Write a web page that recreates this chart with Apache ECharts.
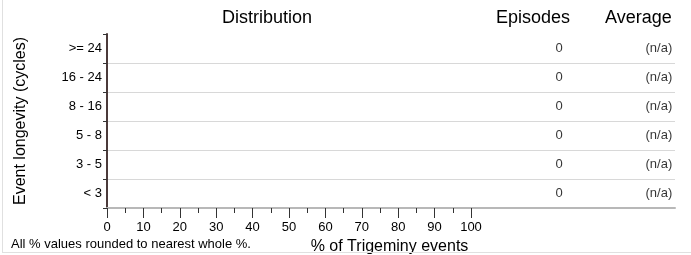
<!DOCTYPE html>
<html>
<head>
<meta charset="utf-8">
<script src="https://cdn.jsdelivr.net/npm/echarts@6/dist/echarts.min.js"></script>
<style>
html,body{margin:0;padding:0;background:#fff;}
#chart{width:691px;height:255px;}
#frame{position:absolute;left:2px;top:0;width:689px;height:253px;border-left:1px solid #e0e0e0;border-bottom:1px solid #e0e0e0;pointer-events:none;box-sizing:border-box;}
</style>
</head>
<body>
<div id="chart"></div>
<div id="frame"></div>
<script>
// Data (bottom row first)
const categories = ['< 3', '3 - 5', '5 - 8', '8 - 16', '16 - 24', '>= 24'];
const distribution = [0, 0, 0, 0, 0, 0];
const episodes = [0, 0, 0, 0, 0, 0];
const averages = ['(n/a)', '(n/a)', '(n/a)', '(n/a)', '(n/a)', '(n/a)'];
const xTicks = { min: 0, max: 100, interval: 10 };
const columns = ['Episodes', 'Average'];

const FONT = 'Liberation Sans, Arial, sans-serif';
const chart = echarts.init(document.getElementById('chart'), null, { renderer: 'canvas' });

chart.setOption({
  animation: false,
  textStyle: { fontFamily: FONT, color: '#000' },
  title: [
    { text: 'Distribution', left: 222, top: 9, padding: 0, textStyle: { fontSize: 18, fontWeight: 'normal', color: '#000', fontFamily: FONT } },
    { text: columns[0], left: 496, top: 9, padding: 0, textStyle: { fontSize: 18, fontWeight: 'normal', color: '#000', fontFamily: FONT } },
    { text: columns[1], left: 605, top: 9, padding: 0, textStyle: { fontSize: 18, fontWeight: 'normal', color: '#000', fontFamily: FONT } },
    { text: 'All % values rounded to nearest whole %.', left: 11, top: 238, padding: 0, textStyle: { fontSize: 13, fontWeight: 'normal', color: '#000', fontFamily: FONT } }
  ],
  grid: [
    { left: 107, right: 220, top: 34, bottom: 47, containLabel: false, outerBoundsMode: 'none' },
    { left: 107, right: 16, top: 34, bottom: 47, containLabel: false, outerBoundsMode: 'none' },
    { left: 490, right: 10, top: 34, bottom: 47, containLabel: false, outerBoundsMode: 'none' }
  ],
  xAxis: [
    {
      gridIndex: 0, type: 'value', min: xTicks.min, max: xTicks.max, interval: xTicks.interval,
      axisLine: { show: false },
      axisTick: { show: true, length: 10, lineStyle: { color: '#333', width: 1 } },
      minorTick: { show: true, splitNumber: 2, length: 5, lineStyle: { color: '#333', width: 1 } },
      splitLine: { show: false },
      axisLabel: { fontSize: 13, color: '#000', margin: 13, fontFamily: FONT },
      name: '% of Trigeminy events', nameLocation: 'middle', nameGap: 26,
      nameTextStyle: { fontSize: 16, color: '#000', padding: [0, 0, 0, 201], fontFamily: FONT }
    },
    {
      gridIndex: 1, type: 'value', min: 0, max: 1,
      axisLine: { show: true, lineStyle: { color: '#b8b8b8', width: 2 } },
      axisTick: { show: false }, axisLabel: { show: false }, splitLine: { show: false }
    },
    {
      gridIndex: 2, type: 'category', data: columns, show: false
    }
  ],
  yAxis: [
    {
      gridIndex: 0, type: 'category', data: categories,
      axisLine: { show: true, lineStyle: { color: '#4b3a3a', width: 2 } },
      axisTick: { show: true, length: 4, lineStyle: { color: '#333', width: 1 } },
      axisLabel: { fontSize: 13, color: '#000', margin: 5, fontFamily: FONT },
      name: 'Event longevity (cycles)', nameLocation: 'middle', nameGap: 78,
      nameTextStyle: { fontSize: 16, color: '#000', fontFamily: FONT }
    },
    {
      gridIndex: 1, type: 'category', data: categories,
      axisLine: { show: false }, axisTick: { show: false }, axisLabel: { show: false },
      splitLine: { show: true, showMinLine: false, showMaxLine: false, lineStyle: { color: '#d8d8d8', width: 1 } }
    },
    {
      gridIndex: 2, type: 'category', data: categories, show: false
    }
  ],
  series: [
    {
      type: 'bar', xAxisIndex: 0, yAxisIndex: 0,
      data: distribution, barWidth: '60%', itemStyle: { color: '#4472c4' }
    },
    {
      type: 'scatter', xAxisIndex: 2, yAxisIndex: 2, symbolSize: 1,
      itemStyle: { color: 'rgba(0,0,0,0)' },
      data: episodes.map((v, i) => [columns[0], categories[i], v]),
      label: { show: true, position: 'inside', align: 'right', offset: [25, 0],
        formatter: p => String(p.value[2]), fontSize: 13, color: '#000', fontFamily: FONT }
    },
    {
      type: 'scatter', xAxisIndex: 2, yAxisIndex: 2, symbolSize: 1,
      itemStyle: { color: 'rgba(0,0,0,0)' },
      data: averages.map((v, i) => [columns[1], categories[i], v]),
      label: { show: true, position: 'inside', align: 'right', offset: [39, 0],
        formatter: p => String(p.value[2]), fontSize: 13, color: '#000', fontFamily: FONT }
    }
  ]
});
</script>
</body>
</html>
